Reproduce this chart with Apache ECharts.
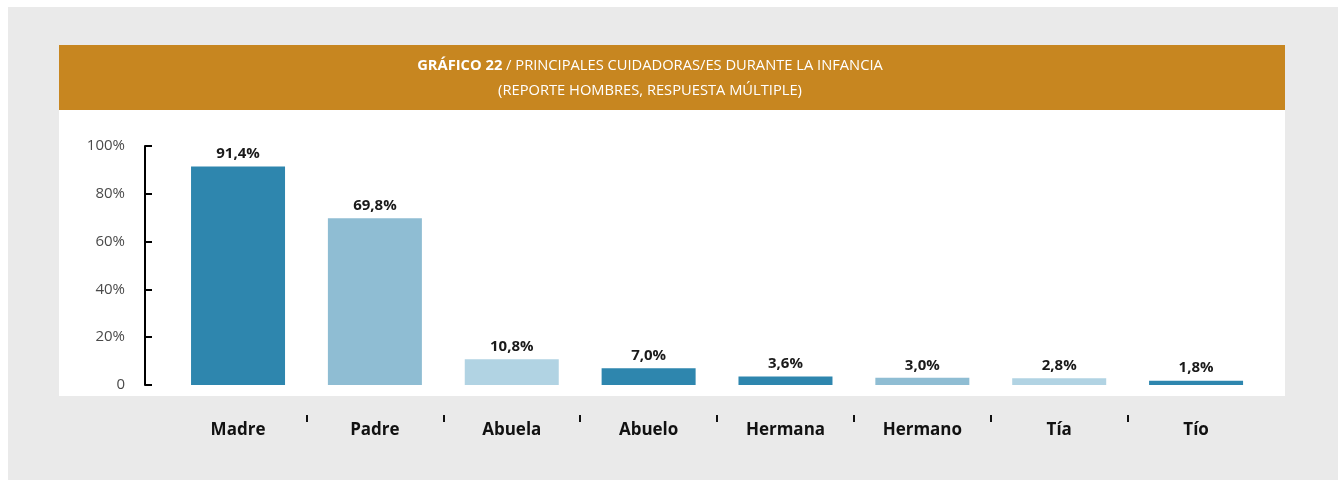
<!DOCTYPE html>
<html>
<head>
<meta charset="utf-8">
<script src="https://cdn.jsdelivr.net/npm/echarts@6/dist/echarts.min.js"></script>
<style>
html,body{margin:0;padding:0;background:#fff;}
#bg{position:absolute;left:8px;top:7px;right:0;bottom:0;background:#eaeaea;}
#head{position:absolute;left:59px;top:45px;width:1226px;height:65px;background:#c78620;}
#panel{position:absolute;left:59px;top:110px;width:1226px;height:286px;background:#fff;}
#main{position:absolute;left:0;top:0;width:1338px;height:480px;}
</style>
</head>
<body>
<div id="bg"></div>
<div id="head"></div>
<div id="panel"></div>
<div id="main"></div>
<script>
var categories = ['Madre', 'Padre', 'Abuela', 'Abuelo', 'Hermana', 'Hermano', 'Tía', 'Tío'];
var values = [91.4, 69.8, 10.8, 7.0, 3.6, 3.0, 2.8, 1.8];
var barColors = ['#2e86ae', '#8fbdd3', '#b1d3e3', '#2e86ae', '#2e86ae', '#8fbdd3', '#b1d3e3', '#2e86ae'];
var yTicks = [0, 20, 40, 60, 80, 100];

var chart = echarts.init(document.getElementById('main'));

var option = {
	textStyle: { fontFamily: 'Open Sans' },
	title: {
		left: 645,
		top: 48,
		textAlign: 'center',
		text: '{b|GRÁFICO 22} / PRINCIPALES CUIDADORAS/ES DURANTE LA INFANCIA\n(REPORTE HOMBRES, RESPUESTA MÚLTIPLE)',
		textStyle: {
			color: '#fff',
			fontSize: 14.7,
			fontWeight: 'normal',
			lineHeight: 25,
			rich: {
				b: { color: '#fff', fontSize: 14.7, fontWeight: 'bold', lineHeight: 25 }
			}
		}
	},
	grid: [
		{ left: 169.6, right: 73.5, top: 146, bottom: 95 },
		// rejilla auxiliar solo para las marcas entre categorías
		{ left: 306.7, width: 820.6, top: 414, height: 1 }
	],
	xAxis: [
		{
			type: 'category',
			data: categories,
			gridIndex: 0,
			axisLine: { show: false },
			axisTick: { show: false },
			axisLabel: {
				margin: 37,
				color: '#111',
				fontSize: 17,
				fontWeight: 'bold'
			}
		},
		{
			type: 'category',
			gridIndex: 1,
			boundaryGap: false,
			data: ['', '', '', '', '', '', ''],
			axisLine: { show: false },
			axisLabel: { show: false },
			axisTick: { show: true, length: 7, lineStyle: { color: '#111', width: 2 } }
		}
	],
	yAxis: [
		{
			type: 'value',
			gridIndex: 0,
			min: 0,
			max: 100,
			interval: 20,
			offset: 24.6,
			axisLine: { show: true, lineStyle: { color: '#000', width: 2 } },
			axisTick: { show: true, inside: true, length: 7, lineStyle: { color: '#000', width: 2 } },
			splitLine: { show: false },
			axisLabel: {
				margin: 20,
				color: '#4a4a4a',
				fontSize: 15,
				formatter: function (v) { return v === 0 ? '0' : v + '%'; }
			}
		},
		{ type: 'value', gridIndex: 1, show: false }
	],
	series: [{
		type: 'bar',
		xAxisIndex: 0,
		yAxisIndex: 0,
		barWidth: 94,
		data: values.map(function (v, i) {
			return { value: v, itemStyle: { color: barColors[i] } };
		}),
		label: {
			show: true,
			position: 'top',
			distance: 5,
			color: '#1a1a1a',
			fontSize: 15,
			fontWeight: 'bold',
			formatter: function (p) { return p.value.toFixed(1).replace('.', ',') + '%'; }
		}
	}]
};

chart.setOption(option);
</script>
</body>
</html>
